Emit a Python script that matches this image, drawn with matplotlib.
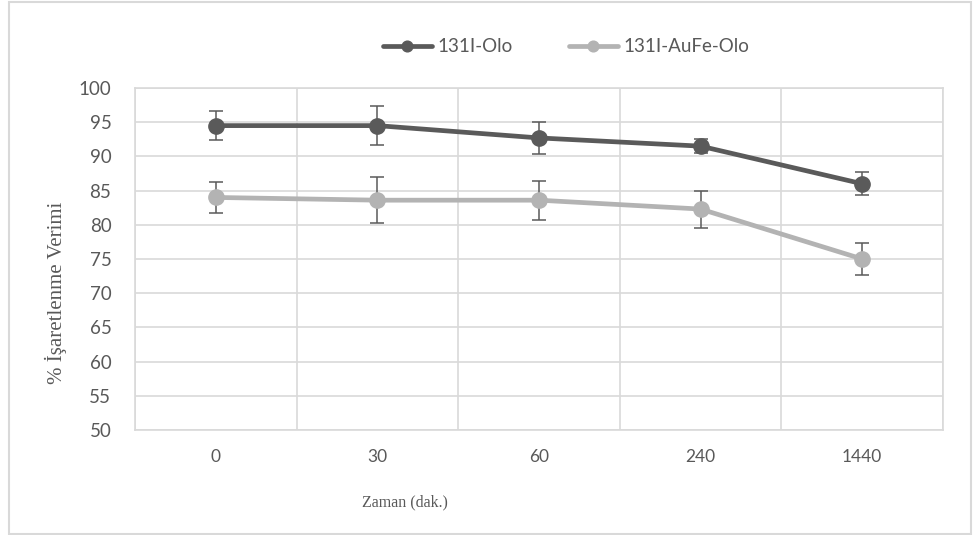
import matplotlib.pyplot as plt
from matplotlib.patches import Rectangle
from matplotlib import font_manager

# data
times = ["0", "30", "60", "240", "1440"]
olo = [94.5, 94.5, 92.7, 91.5, 86.0]
olo_err = [2.1, 2.85, 2.4, 1.05, 1.65]
aufe_olo = [84.0, 83.6, 83.6, 82.3, 75.0]
aufe_olo_err = [2.3, 3.35, 2.85, 2.7, 2.35]
yticks = list(range(50, 101, 5))

dark = "#5a5a5a"
light = "#b3b3b3"
grid = "#d9d9d9"
txt = "#595959"

# narrow face for the x tick labels if the system has one
names = {f.name for f in font_manager.fontManager.ttflist}
narrow = "Liberation Sans Narrow" if "Liberation Sans Narrow" in names else "Lato"

W, H = 974, 535
fig = plt.figure(figsize=(W / 100, H / 100), dpi=100)
ax = fig.add_axes([135 / W, 1 - 430 / H, (943 - 135) / W, (430 - 88) / H])

x = list(range(len(times)))
for vals, errs, col, name in [(olo, olo_err, dark, "131I-Olo"),
                              (aufe_olo, aufe_olo_err, light, "131I-AuFe-Olo")]:
    ax.errorbar(x, vals, yerr=errs, fmt="none", ecolor=dark, elinewidth=1.1,
                capsize=5, capthick=1.1, zorder=3)
    ax.plot(x, vals, color=col, lw=3.4, marker="o", ms=11, label=name,
            solid_capstyle="round", zorder=4)

ax.set_xlim(-0.5, len(times) - 0.5)
ax.set_ylim(50, 100)
ax.set_yticks(yticks)
ax.set_xticks(x)
ax.set_xticklabels(times, fontfamily=narrow, fontsize=14 if narrow != "Lato" else 12.5, color=txt)
ax.set_xticks([i - 0.5 for i in range(len(times) + 1)], minor=True)
for lab in ax.get_yticklabels():
    lab.set_fontfamily("Lato")
    lab.set_fontsize(13.5)
    lab.set_color(txt)
ax.tick_params(axis="both", which="both", length=0)
ax.tick_params(axis="y", pad=17)
ax.tick_params(axis="x", pad=14)
ax.grid(axis="y", which="major", color=grid, lw=1.2)
ax.grid(axis="x", which="minor", color=grid, lw=1.2)
ax.set_axisbelow(True)
for s in ax.spines.values():
    s.set_color(grid)
    s.set_linewidth(1.2)

fig.text(56 / W, 1 - 293 / H, "% İşaretlenme Verimi", rotation=90, ha="center", va="center",
         fontfamily="Liberation Serif", fontsize=15, color=txt)
fig.text(405 / W, 1 - 502 / H, "Zaman (dak.)", ha="center", va="center",
         fontfamily="Liberation Serif", fontsize=11.5, color=txt)

leg = ax.legend(loc="center", bbox_to_anchor=(566 / W, 1 - 47 / H), bbox_transform=fig.transFigure,
                ncol=2, frameon=False, handlelength=2.6, markerscale=0.7,
                columnspacing=3.0, handletextpad=0.3,
                prop={"family": "Lato", "size": 13.5})
for t in leg.get_texts():
    t.set_color(txt)

fig.patches.append(Rectangle((8.5 / W, 1.5 / H), (971 - 8.5) / W, (533 - 1.5) / H,
                             transform=fig.transFigure, fill=False, ec=grid, lw=1.5))

fig.savefig("out.png", dpi=100)
